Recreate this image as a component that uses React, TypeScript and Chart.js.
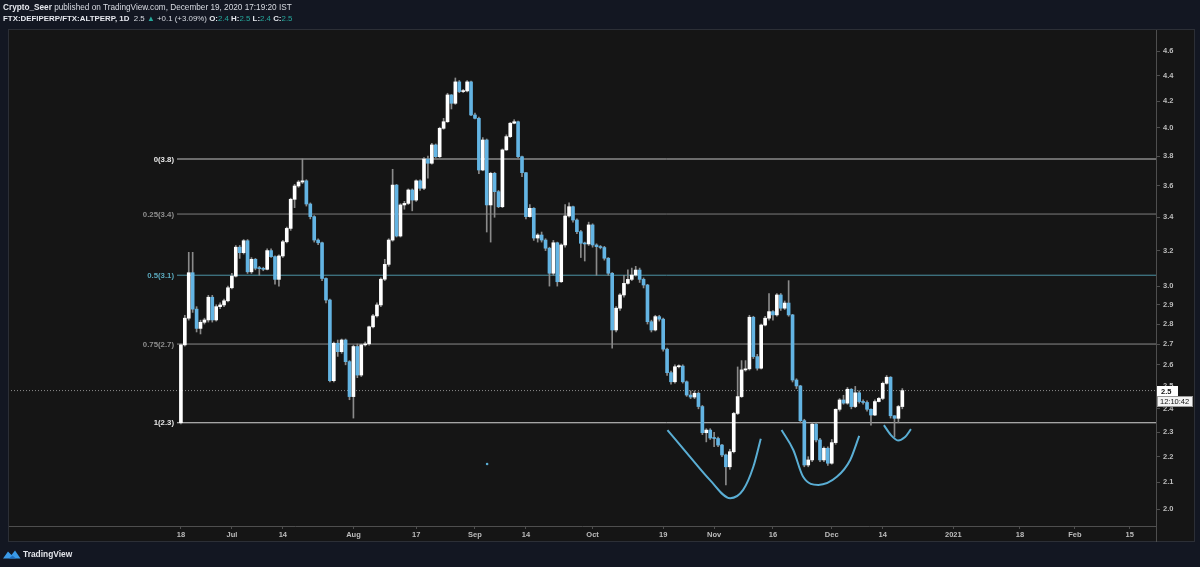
import { useEffect, useRef } from 'react';
import { Chart, registerables } from 'chart.js';
Chart.register(...registerables);

// ---------- data (daily candles, index 0 = Jun 18 2020) ----------
const firstOpen = 2.34;
const closes = [
  2.696, 2.830, 3.074, 2.877, 2.778, 2.809, 2.821, 2.940, 2.821, 2.890,
  2.899, 2.921, 2.991, 3.055, 3.220, 3.188, 3.258, 3.079, 3.150, 3.099,
  3.097, 3.093, 3.200, 3.165, 3.037, 3.169, 3.252, 3.332, 3.513, 3.599,
  3.625, 3.633, 3.483, 3.404, 3.262, 3.246, 3.042, 2.925, 2.526, 2.704,
  2.663, 2.720, 2.615, 2.454, 2.688, 2.552, 2.696, 2.701, 2.786, 2.842,
  2.899, 3.038, 3.121, 3.262, 3.605, 3.286, 3.477, 3.487, 3.573, 3.508,
  3.633, 3.584, 3.780, 3.751, 3.878, 3.796, 3.997, 4.045, 4.247, 4.183,
  4.349, 4.273, 4.278, 4.349, 4.095, 4.070, 3.705, 3.913, 3.477, 3.683,
  3.562, 3.466, 3.843, 3.937, 4.034, 4.045, 3.796, 3.687, 3.404, 3.456,
  3.274, 3.292, 3.262, 3.214, 3.071, 3.246, 3.024, 3.233, 3.408, 3.466,
  3.383, 3.312, 3.243, 3.239, 3.353, 3.233, 3.223, 3.218, 3.156, 3.071,
  2.770, 2.882, 2.952, 3.015, 3.037, 3.061, 3.089, 3.037, 3.006, 2.812,
  2.770, 2.838, 2.825, 2.675, 2.563, 2.521, 2.591, 2.594, 2.521, 2.461,
  2.452, 2.469, 2.410, 2.298, 2.309, 2.276, 2.274, 2.247, 2.207, 2.160,
  2.220, 2.380, 2.454, 2.576, 2.581, 2.835, 2.639, 2.584, 2.795, 2.830,
  2.864, 2.847, 2.952, 2.882, 2.909, 2.847, 2.529, 2.502, 2.349, 2.167,
  2.187, 2.334, 2.268, 2.187, 2.234, 2.174, 2.257, 2.398, 2.439, 2.425,
  2.487, 2.410, 2.471, 2.432, 2.428, 2.398, 2.373, 2.432, 2.446, 2.514,
  2.542, 2.370, 2.359, 2.410, 2.481,
];
const highs = [
  2.700, 2.845, 3.190, 3.190, 2.890, 2.820, 2.830, 2.950, 2.950, 2.900,
  2.910, 2.930, 3.000, 3.070, 3.230, 3.230, 3.265, 3.265, 3.160, 3.155,
  3.110, 3.105, 3.210, 3.210, 3.170, 3.175, 3.260, 3.340, 3.520, 3.610,
  3.635, 3.780, 3.640, 3.490, 3.410, 3.270, 3.250, 3.045, 2.930, 2.710,
  2.720, 2.725, 2.725, 2.620, 2.695, 2.700, 2.700, 2.710, 2.790, 2.850,
  2.910, 3.045, 3.150, 3.270, 3.710, 3.610, 3.485, 3.500, 3.580, 3.580,
  3.640, 3.640, 3.790, 3.800, 3.890, 3.885, 4.005, 4.070, 4.260, 4.250,
  4.380, 4.360, 4.290, 4.360, 4.355, 4.110, 4.080, 3.930, 3.920, 3.690,
  3.690, 3.570, 3.850, 3.950, 4.040, 4.060, 4.050, 3.800, 3.690, 3.480,
  3.460, 3.300, 3.310, 3.270, 3.220, 3.260, 3.250, 3.240, 3.480, 3.490,
  3.470, 3.390, 3.320, 3.250, 3.370, 3.360, 3.240, 3.230, 3.225, 3.160,
  3.075, 2.890, 2.960, 3.060, 3.090, 3.100, 3.110, 3.100, 3.045, 3.010,
  2.820, 2.845, 2.845, 2.830, 2.680, 2.570, 2.600, 2.600, 2.600, 2.525,
  2.480, 2.480, 2.475, 2.415, 2.315, 2.315, 2.300, 2.280, 2.250, 2.210,
  2.230, 2.385, 2.590, 2.620, 2.620, 2.845, 2.840, 2.650, 2.800, 2.840,
  2.960, 2.870, 2.960, 2.960, 2.920, 3.030, 2.850, 2.535, 2.505, 2.355,
  2.200, 2.340, 2.340, 2.275, 2.240, 2.240, 2.270, 2.400, 2.445, 2.460,
  2.495, 2.490, 2.500, 2.480, 2.440, 2.435, 2.400, 2.440, 2.450, 2.520,
  2.550, 2.545, 2.370, 2.415, 2.490,
];
const lows = [
  2.335, 2.690, 2.820, 2.860, 2.760, 2.750, 2.800, 2.810, 2.810, 2.815,
  2.880, 2.890, 2.915, 2.985, 3.050, 3.155, 3.180, 3.070, 3.070, 3.090,
  3.060, 3.085, 3.090, 3.160, 3.010, 3.000, 3.160, 3.245, 3.320, 3.460,
  3.590, 3.615, 3.470, 3.390, 3.250, 3.235, 3.030, 2.910, 2.520, 2.520,
  2.640, 2.655, 2.600, 2.440, 2.360, 2.540, 2.545, 2.690, 2.695, 2.780,
  2.835, 2.890, 3.030, 3.110, 3.255, 3.280, 3.280, 3.450, 3.480, 3.440,
  3.500, 3.570, 3.575, 3.650, 3.745, 3.790, 3.790, 3.990, 4.040, 4.140,
  4.175, 4.265, 4.265, 4.270, 4.090, 4.065, 3.680, 3.700, 3.310, 3.250,
  3.400, 3.460, 3.460, 3.840, 3.930, 4.030, 3.790, 3.660, 3.390, 3.400,
  3.260, 3.250, 3.250, 3.200, 3.000, 3.060, 3.000, 3.020, 3.220, 3.400,
  3.370, 3.300, 3.160, 3.140, 3.230, 3.220, 3.060, 3.210, 3.145, 3.060,
  2.680, 2.760, 2.870, 2.940, 3.010, 3.030, 3.055, 3.020, 2.990, 2.800,
  2.760, 2.765, 2.815, 2.665, 2.550, 2.510, 2.515, 2.585, 2.515, 2.455,
  2.445, 2.445, 2.400, 2.290, 2.260, 2.270, 2.240, 2.240, 2.200, 2.090,
  2.150, 2.215, 2.375, 2.450, 2.570, 2.575, 2.630, 2.575, 2.580, 2.790,
  2.820, 2.820, 2.840, 2.870, 2.875, 2.840, 2.520, 2.490, 2.340, 2.160,
  2.160, 2.180, 2.260, 2.180, 2.180, 2.165, 2.170, 2.250, 2.390, 2.420,
  2.420, 2.400, 2.405, 2.425, 2.420, 2.390, 2.330, 2.370, 2.430, 2.440,
  2.510, 2.360, 2.280, 2.340, 2.400,
];

const xTickIndex = [0, 13, 26, 44, 60, 75, 88, 105, 123, 136, 151, 166, 179, 197, 214, 228, 242];
const xTickLabels = ['18', 'Jul', '14', 'Aug', '17', 'Sep', '14', 'Oct', '19', 'Nov', '16', 'Dec', '14', '2021', '18', 'Feb', '15'];
const yTicks = [2.0, 2.1, 2.2, 2.3, 2.4, 2.5, 2.6, 2.7, 2.8, 2.9, 3.0, 3.2, 3.4, 3.6, 3.8, 4.0, 4.2, 4.4, 4.6];

const fibLevels = [3.78, 3.42, 3.06, 2.70, 2.34];
const fibLabels = ['0(3.8)', '0.25(3.4)', '0.5(3.1)', '0.75(2.7)', '1(2.3)'];
const fibLineColors = ['#c4c4c4', '#7d7d7d', '#4d93a6', '#8a8a8a', '#d6d6d6'];
const fibTextColors = ['#e8e8e8', '#8f8f8f', '#5aa9bd', '#8f8f8f', '#e8e8e8'];
const fibStartIndex = -1.0;

const curve1 = [
  { x: 124.1, y: 2.309 }, { x: 129.8, y: 2.200 }, { x: 134.9, y: 2.109 }, { x: 140.1, y: 2.040 },
  { x: 143.4, y: 2.071 }, { x: 146.0, y: 2.160 }, { x: 147.9, y: 2.273 },
];
const curve2 = [
  { x: 153.2, y: 2.309 }, { x: 156.2, y: 2.227 }, { x: 158.7, y: 2.121 }, { x: 162.6, y: 2.090 },
  { x: 167.3, y: 2.121 }, { x: 170.7, y: 2.187 }, { x: 173.0, y: 2.285 },
];
const curve3 = [
  { x: 179.3, y: 2.330 }, { x: 181.1, y: 2.288 }, { x: 182.9, y: 2.266 }, { x: 184.7, y: 2.280 }, { x: 186.2, y: 2.313 },
];
const dotPoint = [{ x: 78.1, y: 2.171 }];

const lastPrice = 2.481;
const lastPriceLabel = '2.5';
const countdownLabel = '12:10:42';

const headerLine1: [string, string, boolean][] = [
  ['Crypto_Seer', '#e6e8ee', true],
  [' published on TradingView.com, December 19, 2020 17:19:20 IST', '#d8dbe2', false],
];
const headerLine2: [string, string, boolean][] = [
  ['FTX:DEFIPERP/FTX:ALTPERP, 1D', '#e6e8ee', true],
  ['  2.5 ', '#d8dbe2', false],
  ['\u25B2', '#26a69a', false],
  [' +0.1 (+3.09%) ', '#d8dbe2', false],
  ['O:', '#e6e8ee', true],
  ['2.4', '#26a69a', false],
  [' H:', '#e6e8ee', true],
  ['2.5', '#26a69a', false],
  [' L:', '#e6e8ee', true],
  ['2.4', '#26a69a', false],
  [' C:', '#e6e8ee', true],
  ['2.5', '#26a69a', false],
];

// ---------- layout / style ----------
const W = 1200;
const H = 567;
const X_MIN = -44.1;
const X_MAX = 248.7;
const Y_MIN = 1.9395;
const Y_MAX = 4.788;
const OUTER_BG = '#131722';
const PANE_BG = '#151515';
const UP = '#ffffff';
const DOWN = '#63b4e3';
const WICK = '#8a8a8a';
const CURVE = '#5aaed4';
const AXIS_LINE = '#4e4e4e';
const FONT = '"Liberation Sans", Arial, sans-serif';

function drawSegments(ctx: CanvasRenderingContext2D, segs: [string, string, boolean][], x: number, y: number, target: number) {
  let w = 0;
  for (const [t, , b] of segs) {
    ctx.font = `${b ? 'bold ' : ''}10px ${FONT}`;
    w += ctx.measureText(t).width;
  }
  const size = (10 * target) / w;
  let cx = x;
  ctx.textBaseline = 'middle';
  ctx.textAlign = 'left';
  for (const [t, c, b] of segs) {
    ctx.font = `${b ? 'bold ' : ''}${size}px ${FONT}`;
    ctx.fillStyle = c;
    ctx.fillText(t, cx, y);
    cx += ctx.measureText(t).width;
  }
}

const tvPlugin = {
  id: 'tvDecor',
  beforeDraw(chart: any) {
    const ctx = chart.ctx as CanvasRenderingContext2D;
    ctx.save();
    ctx.fillStyle = OUTER_BG;
    ctx.fillRect(0, 0, W, H);
    ctx.fillStyle = PANE_BG;
    ctx.fillRect(8, 29, 1187, 513);
    ctx.restore();
  },
  afterDatasetsDraw(chart: any) {
    const ctx = chart.ctx as CanvasRenderingContext2D;
    const ys = chart.scales.y;
    ctx.save();
    ctx.textAlign = 'right';
    ctx.textBaseline = 'middle';
    fibLevels.forEach((lv, k) => {
      const py = ys.getPixelForValue(lv);
      ctx.font = `bold 7.8px ${FONT}`;
      ctx.fillStyle = fibTextColors[k];
      ctx.fillText(fibLabels[k], 174, py + 0.5);
    });
    ctx.restore();
  },
  afterDraw(chart: any) {
    const ctx = chart.ctx as CanvasRenderingContext2D;
    const ys = chart.scales.y;
    ctx.save();
    // frame
    ctx.strokeStyle = '#2c2f36';
    ctx.lineWidth = 1;
    ctx.strokeRect(8.5, 29.5, 1186, 512);
    ctx.strokeStyle = AXIS_LINE;
    ctx.beginPath();
    ctx.moveTo(1156.5, 526);
    ctx.lineTo(1156.5, 542);
    ctx.stroke();

    // last price label boxes
    const py = Math.round(ys.getPixelForValue(lastPrice));
    ctx.fillStyle = '#ffffff';
    ctx.fillRect(1157, py - 5, 21, 10);
    ctx.fillStyle = '#f4f4f4';
    ctx.fillRect(1157, py + 5, 36, 11);
    ctx.strokeStyle = '#9a9a9a';
    ctx.strokeRect(1157.5, py + 5.5, 35, 10);
    ctx.fillStyle = '#111111';
    ctx.textAlign = 'left';
    ctx.textBaseline = 'middle';
    ctx.font = `bold 7.5px ${FONT}`;
    ctx.fillText(lastPriceLabel, 1161, py + 0.5);
    ctx.font = `7.5px ${FONT}`;
    ctx.fillText(countdownLabel, 1160, py + 10.5);

    // header
    drawSegments(ctx, headerLine1, 3, 7.5, 289);
    drawSegments(ctx, headerLine2, 3, 19, 290);

    // footer logo
    ctx.fillStyle = '#3a9ae8';
    ctx.beginPath();
    ctx.moveTo(3, 558.5);
    ctx.lineTo(8, 551.5);
    ctx.lineTo(11.5, 555);
    ctx.lineTo(15, 550.5);
    ctx.lineTo(20.5, 558.5);
    ctx.closePath();
    ctx.fill();
    ctx.fillStyle = '#1f6fc0';
    ctx.beginPath();
    ctx.moveTo(9, 558.5);
    ctx.lineTo(12.5, 555.5);
    ctx.lineTo(16, 558.5);
    ctx.closePath();
    ctx.fill();
    ctx.fillStyle = '#e3e5ea';
    ctx.font = `bold 8.4px ${FONT}`;
    ctx.textAlign = 'left';
    ctx.textBaseline = 'middle';
    ctx.fillText('TradingView', 23, 555);
    ctx.restore();
  },
};

export default function App() {
  const ref = useRef<HTMLCanvasElement>(null);
  useEffect(() => {
    document.body.style.margin = '0';
    document.body.style.background = OUTER_BG;
    const canvas = ref.current!;
    const opens = [firstOpen, ...closes.slice(0, -1)];
    const idx = closes.map((_, i) => i);

    const fibSets = fibLevels.map((lv, k) => ({
      type: 'line' as const,
      data: [{ x: fibStartIndex, y: lv }, { x: X_MAX, y: lv }],
      borderColor: fibLineColors[k],
      borderWidth: 1,
      pointRadius: 0,
      order: 4,
    }));

    const chart = new Chart(canvas, {
      type: 'bar',
      data: {
        datasets: [
          {
            type: 'bar',
            data: idx.map((i) => ({ x: i, y: [lows[i], highs[i]] })) as any,
            backgroundColor: WICK,
            barThickness: 1,
            grouped: false,
            borderWidth: 0,
            order: 2,
          },
          {
            type: 'bar',
            data: idx.map((i) => ({ x: i, y: [opens[i], closes[i]] })) as any,
            backgroundColor: idx.map((i) => (closes[i] >= opens[i] ? UP : DOWN)),
            barThickness: 3,
            grouped: false,
            borderWidth: 0,
            minBarLength: 1,
            order: 1,
          },
          ...fibSets,
          {
            type: 'line',
            data: [{ x: X_MIN, y: lastPrice }, { x: X_MAX, y: lastPrice }],
            borderColor: '#8d8d8d',
            borderWidth: 1,
            borderDash: [1, 2],
            pointRadius: 0,
            order: 5,
          },
          ...[curve1, curve2, curve3].map((c) => ({
            type: 'line' as const,
            data: c,
            borderColor: CURVE,
            borderWidth: 2,
            pointRadius: 0,
            cubicInterpolationMode: 'monotone' as const,
            order: 0,
          })),
          {
            type: 'line',
            data: dotPoint,
            showLine: false,
            pointRadius: 1.3,
            pointBackgroundColor: CURVE,
            pointBorderWidth: 0,
            order: 0,
          },
        ] as any,
      },
      options: {
        responsive: false,
        devicePixelRatio: 1,
        animation: false,
        events: [],
        layout: { padding: { left: 8, top: 29, right: 5, bottom: 25 } },
        plugins: { legend: { display: false }, tooltip: { enabled: false } },
        scales: {
          x: {
            type: 'linear',
            min: X_MIN,
            max: X_MAX,
            offset: false,
            grid: { offset: false, drawOnChartArea: false, tickLength: 3, color: AXIS_LINE },
            border: { display: true, color: AXIS_LINE },
            ticks: {
              autoSkip: false,
              maxRotation: 0,
              padding: 1,
              color: '#bdbdbd',
              font: { family: FONT, size: 7.5, weight: 'bold' },
              callback: (v: any) => {
                const k = xTickIndex.indexOf(Number(v));
                return k >= 0 ? xTickLabels[k] : '';
              },
            },
            afterBuildTicks: (s: any) => {
              s.ticks = xTickIndex.map((v) => ({ value: v }));
            },
            afterFit: (s: any) => {
              s.height = 16;
            },
          },
          y: {
            type: 'logarithmic',
            position: 'right',
            min: Y_MIN,
            max: Y_MAX,
            grid: { drawOnChartArea: false, tickLength: 4, color: AXIS_LINE },
            border: { display: true, color: AXIS_LINE },
            ticks: {
              autoSkip: false,
              padding: 3,
              color: '#bdbdbd',
              font: { family: FONT, size: 7.5, weight: 'bold' },
              callback: (v: any) => Number(v).toFixed(1),
            },
            afterBuildTicks: (s: any) => {
              s.ticks = yTicks.map((v) => ({ value: v }));
            },
            afterFit: (s: any) => {
              s.width = 39;
            },
          },
        } as any,
      },
      plugins: [tvPlugin],
    });
    return () => chart.destroy();
  }, []);

  return (
    <div style={{ position: 'fixed', left: 0, top: 0, width: W, height: H, background: OUTER_BG }}>
      <canvas ref={ref} width={W} height={H} style={{ width: W, height: H, display: 'block' }} />
    </div>
  );
}
